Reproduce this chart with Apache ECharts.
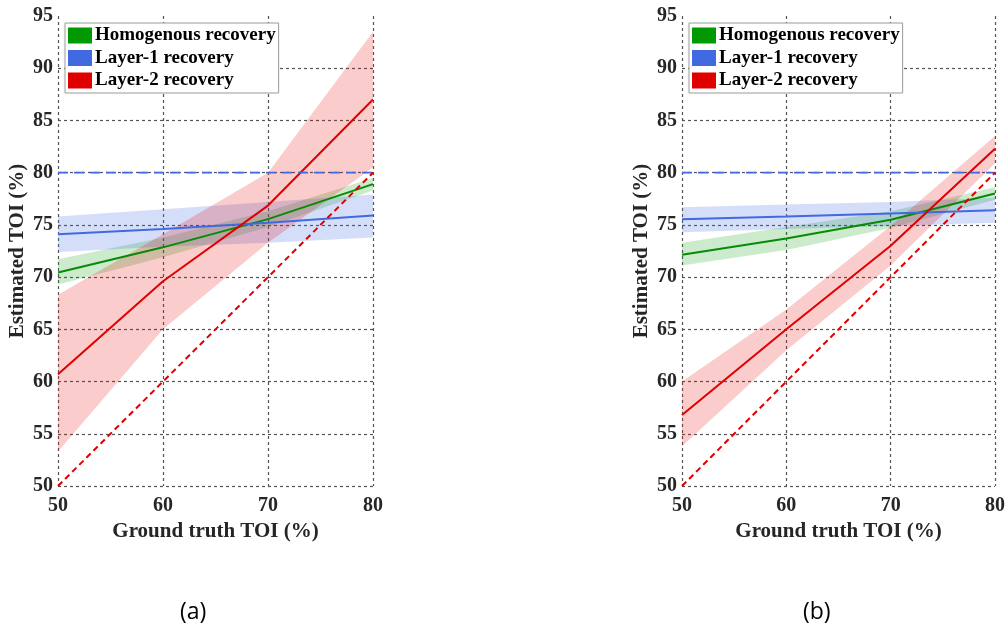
<!DOCTYPE html>
<html>
<head>
<meta charset="utf-8">
<script src="https://cdn.jsdelivr.net/npm/echarts@6/dist/echarts.min.js"></script>
<style>
  html, body { margin: 0; padding: 0; background: #fff; }
  #chart { width: 1008px; height: 635px; }
</style>
</head>
<body>
<div id="chart"></div>
<script>
// Ground-truth TOI sample points (x axis)
const truthTOI = [50, 60, 70, 80];
const xTickValues = [50, 60, 70, 80];
const yTickValues = [50, 55, 60, 65, 70, 75, 80, 85, 90, 95];

// Panel (a): mean estimate and band bounds
const aHomMean = [70.45, 72.85, 75.55, 78.9];
const aHomLow  = [69.3, 71.9, 74.8, 78.3];
const aHomHigh = [71.7, 73.8, 76.3, 79.5];
const aL1Mean  = [74.1, 74.6, 75.2, 75.9];
const aL1Low   = [72.4, 72.9, 73.3, 73.8];
const aL1High  = [75.8, 76.5, 77.2, 77.9];
const aL2Mean  = [60.7, 69.6, 76.85, 87.0];
const aL2Low   = [53.3, 65.0, 73.3, 80.5];
const aL2High  = [68.3, 74.1, 80.0, 93.5];

// Panel (b): mean estimate and band bounds
const bHomMean = [72.15, 73.7, 75.5, 78.0];
const bHomLow  = [71.1, 72.6, 74.7, 77.4];
const bHomHigh = [73.3, 74.8, 76.3, 78.6];
const bL1Mean  = [75.55, 75.8, 76.1, 76.4];
const bL1Low   = [74.3, 74.6, 74.9, 75.2];
const bL1High  = [76.7, 76.95, 77.2, 77.6];
const bL2Mean  = [56.8, 65.0, 73.0, 82.3];
const bL2Low   = [53.8, 63.0, 71.1, 80.9];
const bL2High  = [60.0, 66.9, 74.9, 83.5];

// Reference lines: identity (estimate = truth) and the layer-1 true value
const identityX = [50, 80];
const identityY = [50, 80];
const layer1TrueX = [50, 80];
const layer1TrueY = [80, 80];

const NAMES = ['Homogenous recovery', 'Layer-1 recovery', 'Layer-2 recovery'];
const GREEN = '#009900', GREEN_LINE = '#078a07';
const BLUE = '#4169E1';
const RED = '#E00000';

const serif = '"Liberation Serif", "DejaVu Serif", serif';
const tickColor = '#262626';

function pairs(xs, ys) { return xs.map((x, i) => [x, ys[i]]); }

// Shaded band drawn as one polygon through the axis scale
function band(name, gridIdx, low, high, fill) {
  return {
    type: 'custom', name: name,
    xAxisIndex: gridIdx, yAxisIndex: gridIdx,
    clip: true, silent: true, z: 2,
    itemStyle: { color: fill },
    data: truthTOI.map((x, i) => [x, low[i], high[i]]),
    encode: { x: 0, y: [1, 2] },
    renderItem: function (params, api) {
      if (params.dataIndex !== 0) return null;
      const top = truthTOI.map((x, i) => api.coord([x, high[i]]));
      const bot = truthTOI.map((x, i) => api.coord([x, low[i]])).reverse();
      return {
        type: 'polygon',
        shape: { points: top.concat(bot) },
        style: { fill: fill, stroke: null }
      };
    }
  };
}

function line(name, gridIdx, xs, ys, color, width, dash, z) {
  return {
    type: 'line', name: name,
    xAxisIndex: gridIdx, yAxisIndex: gridIdx,
    data: pairs(xs, ys), showSymbol: false, symbol: 'none',
    silent: true, z: z || 3, animation: false,
    itemStyle: { color: color },
    lineStyle: { color: color, width: width, type: dash || 'solid' }
  };
}

function panelSeries(g, hom, homL, homH, l1, l1L, l1H, l2, l2L, l2H) {
  return [
    band(NAMES[0], g, homL, homH, 'rgba(0,153,0,0.2)'),
    band(NAMES[1], g, l1L, l1H, 'rgba(65,105,225,0.22)'),
    band(NAMES[2], g, l2L, l2H, 'rgba(230,0,0,0.2)'),
    line(NAMES[0], g, truthTOI, hom, GREEN_LINE, 2),
    line(NAMES[1], g, truthTOI, l1, BLUE, 2),
    line(NAMES[2], g, truthTOI, l2, RED, 2),
    line(NAMES[1], g, layer1TrueX, layer1TrueY, BLUE, 1.8, [10, 6], 4),
    line(NAMES[2], g, identityX, identityY, RED, 2, [6, 4], 4)
  ];
}

const gridLine = { show: true, lineStyle: { color: '#555', width: 1.2, type: [3, 3] } };

function xAxisFor(g) {
  return {
    type: 'value', gridIndex: g, min: 50, max: 80, interval: 10,
    name: 'Ground truth TOI (%)', nameLocation: 'middle', nameGap: 31,
    nameTextStyle: { fontFamily: serif, fontWeight: 'bold', fontSize: 21, color: tickColor },
    axisLine: { show: false }, axisTick: { show: false },
    axisLabel: { fontFamily: serif, fontWeight: 'bold', fontSize: 20, color: tickColor, margin: 10,
      customValues: xTickValues },
    splitLine: Object.assign({ showMinLine: true, showMaxLine: true }, gridLine)
  };
}
function yAxisFor(g) {
  return {
    type: 'value', gridIndex: g, min: 50, max: 95, interval: 5,
    name: 'Estimated TOI (%)', nameLocation: 'middle', nameGap: 30,
    nameTextStyle: { fontFamily: serif, fontWeight: 'bold', fontSize: 21, color: tickColor },
    axisLine: { show: false }, axisTick: { show: false },
    axisLabel: { fontFamily: serif, fontWeight: 'bold', fontSize: 20, color: tickColor, margin: 5,
      customValues: yTickValues },
    splitLine: Object.assign({ showMinLine: true, showMaxLine: false }, gridLine)
  };
}

function legendFor(left) {
  return {
    left: left, top: 23, orient: 'vertical',
    backgroundColor: '#fff', borderColor: '#999', borderWidth: 1,
    padding: [3, 3, 3, 3], itemGap: 3.5, itemWidth: 24, itemHeight: 16,
    icon: 'rect', selectedMode: false,
    textStyle: { fontFamily: serif, fontWeight: 'bold', fontSize: 19, color: '#000', lineHeight: 16, padding: [0, 0, 0, -2] },
    data: [
      { name: NAMES[0], itemStyle: { color: GREEN, opacity: 1 } },
      { name: NAMES[1], itemStyle: { color: BLUE, opacity: 1 } },
      { name: NAMES[2], itemStyle: { color: RED, opacity: 1 } }
    ]
  };
}

const chart = echarts.init(document.getElementById('chart'), null, { renderer: 'canvas' });
chart.setOption({
  backgroundColor: '#fff',
  animation: false,
  grid: [
    { left: 58, top: 16, width: 315, height: 470 },
    { left: 682, top: 16, width: 315, height: 470 }
  ],
  xAxis: [xAxisFor(0), xAxisFor(1)],
  yAxis: [yAxisFor(0), yAxisFor(1)],
  legend: [legendFor(65), legendFor(689)],
  graphic: [
    { type: 'text', left: 180, top: 601,
      style: { text: '(a)', font: '23px "Open Sans", "Liberation Sans", sans-serif', fill: '#000' } },
    { type: 'text', left: 803, top: 601,
      style: { text: '(b)', font: '23px "Open Sans", "Liberation Sans", sans-serif', fill: '#000' } }
  ],
  series: [].concat(
    panelSeries(0, aHomMean, aHomLow, aHomHigh, aL1Mean, aL1Low, aL1High, aL2Mean, aL2Low, aL2High),
    panelSeries(1, bHomMean, bHomLow, bHomHigh, bL1Mean, bL1Low, bL1High, bL2Mean, bL2Low, bL2High)
  )
});
</script>
</body>
</html>
